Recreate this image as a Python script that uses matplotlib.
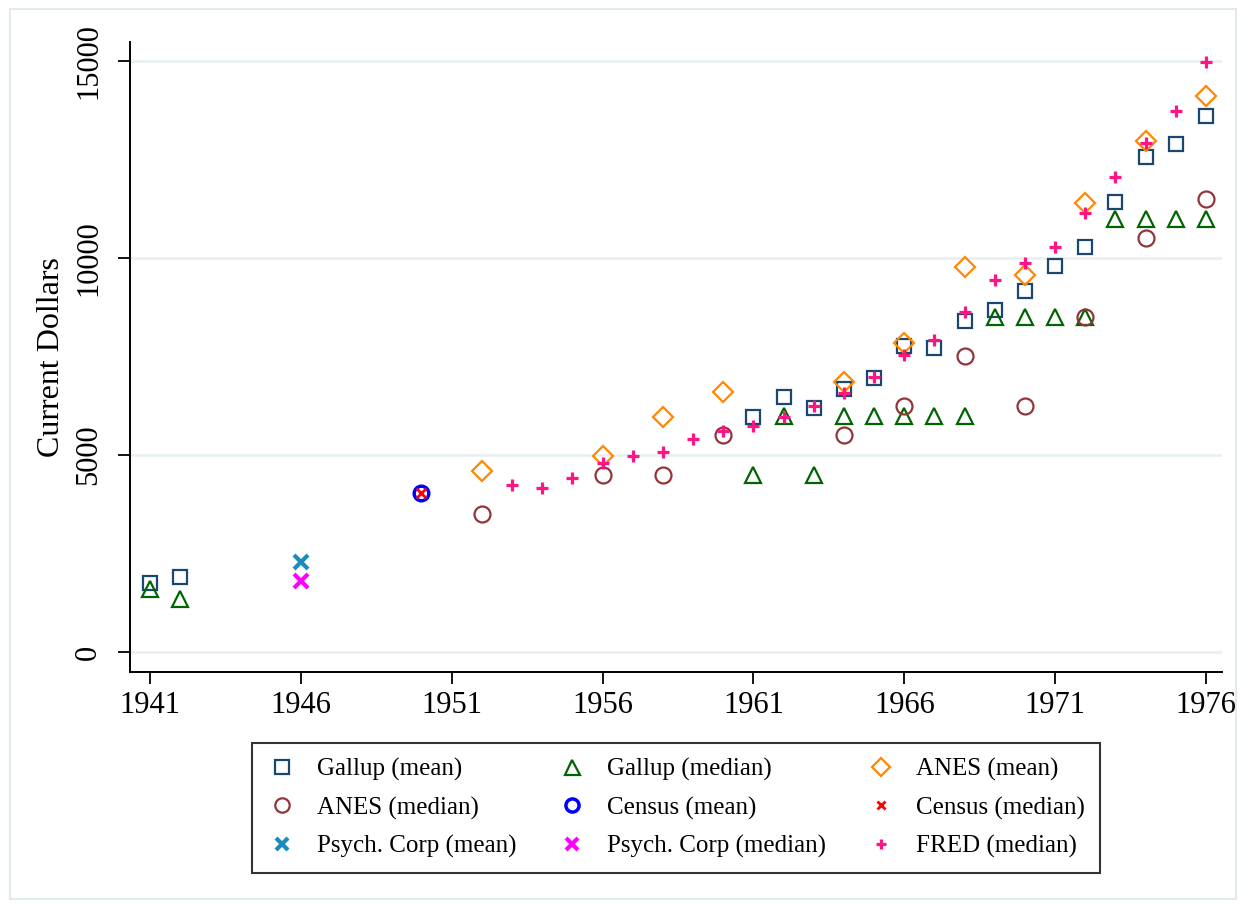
import matplotlib.pyplot as plt
from matplotlib.patches import Rectangle

plt.rcParams['font.family'] = ['Liberation Serif', 'DejaVu Serif']

# Gallup (mean)
gallup_mean_yr = [1941, 1942, 1961, 1962, 1963, 1964, 1965, 1966, 1967, 1968, 1969, 1970, 1971, 1972, 1973, 1974, 1975, 1976]
gallup_mean = [1760, 1910, 5970, 6460, 6200, 6680, 6950, 7770, 7720, 8400, 8680, 9170, 9800, 10270, 11410, 12570, 12890, 13590]

# Gallup (median)
gallup_med_yr = [1941, 1942, 1961, 1962, 1963, 1964, 1965, 1966, 1967, 1968, 1969, 1970, 1971, 1972, 1973, 1974, 1975, 1976]
gallup_med = [1600, 1350, 4500, 6000, 4500, 6000, 6000, 6000, 6000, 6000, 8500, 8500, 8500, 8500, 11000, 11000, 11000, 11000]

# ANES
anes_yr = [1952, 1956, 1958, 1960, 1964, 1966, 1968, 1970, 1972, 1974, 1976]
anes_mean = [4590, 4980, 5960, 6590, 6860, 7850, 9780, 9570, 11390, 12970, 14120]
anes_med = [3500, 4500, 4500, 5500, 5500, 6250, 7500, 6250, 8500, 10500, 11500]

# Census, Psych. Corp
census_yr = [1950]
census_mean = [4040]
census_med = [4040]
psych_yr = [1946]
psych_mean = [2290]
psych_med = [1800]

# FRED (median)
fred_yr = list(range(1953, 1977))
fred_med = [4240, 4170, 4410, 4800, 4970, 5080, 5410, 5620, 5740, 5970, 6250, 6570,
            6970, 7540, 7930, 8640, 9440, 9880, 10290, 11130, 12060, 12910, 13730, 14970]

fig = plt.figure(figsize=(12.44, 9.09), dpi=100)
ax = fig.add_axes([130 / 1244, 1 - 672 / 909, (1222 - 130) / 1244, (672 - 42) / 909])

h = {}
h['gm'], = ax.plot(gallup_mean_yr, gallup_mean, 's', ms=10.5, mfc='none', mec='#1a476f', mew=1.6, label='Gallup (mean)')
h['gd'], = ax.plot(gallup_med_yr, gallup_med, '^', ms=12, mfc='none', mec='#006400', mew=1.6, label='Gallup (median)')
h['am'], = ax.plot(anes_yr, anes_mean, 'D', ms=10, mfc='none', mec='#ff8800', mew=1.6, label='ANES (mean)')
h['ad'], = ax.plot(anes_yr, anes_med, 'o', ms=11.5, mfc='none', mec='#90353b', mew=1.6, label='ANES (median)')
h['cm'], = ax.plot(census_yr, census_mean, 'o', ms=10.5, mfc='none', mec='#0000ff', mew=2.5, label='Census (mean)')
h['cd'], = ax.plot(census_yr, census_med, 'x', ms=6.5, mec='#ff0000', mew=2, label='Census (median)')
h['pm'], = ax.plot(psych_yr, psych_mean, 'x', ms=10, mec='#1a8cbc', mew=3, label='Psych. Corp (mean)')
h['pd'], = ax.plot(psych_yr, psych_med, 'x', ms=10, mec='#ff00ff', mew=3, label='Psych. Corp (median)')
h['fr'], = ax.plot(fred_yr, fred_med, '+', ms=8.5, mec='#ff1483', mew=2.3, label='FRED (median)')

ax.set_xlim(1940.34, 1976.53)
ax.set_ylim(-508, 15480)
ax.set_xticks(range(1941, 1977, 5))
ax.set_yticks([0, 5000, 10000, 15000])
ax.set_yticklabels(['0', '5000', '10000', '15000'], rotation=90, va='center')
ax.tick_params(axis='both', labelsize=22, length=8.5, width=1.3, color='black')
ax.tick_params(axis='x', pad=5)
ax.tick_params(axis='y', pad=11)
ax.set_ylabel('Current Dollars', fontsize=23, labelpad=6)

ax.grid(axis='y', color='#e8eff2', lw=1.8)
ax.set_axisbelow(True)
for s in ['top', 'right']:
    ax.spines[s].set_visible(False)
for s in ['left', 'bottom']:
    ax.spines[s].set_linewidth(1.4)

# legend filled column by column, so order handles to give the row layout
order = ['gm', 'ad', 'pm', 'gd', 'cm', 'pd', 'am', 'cd', 'fr']
leg = fig.legend([h[k] for k in order], [h[k].get_label() for k in order],
                 ncol=3, loc='center', bbox_to_anchor=(676 / 1244, 1 - 808 / 909),
                 fontsize=18, frameon=True, fancybox=False, edgecolor='black',
                 markerscale=0.9, handlelength=1.2, handletextpad=0.8,
                 columnspacing=1.6, labelspacing=0.62, borderpad=0.6)
leg.get_frame().set_linewidth(1.5)

# light border around the whole graph region
fig.patches.append(Rectangle((10 / 1244, 10 / 909), 1226 / 1244, 890 / 909,
                             transform=fig.transFigure, fill=False,
                             edgecolor='#e3eaee', lw=1.5))

fig.savefig('out.png', dpi=100)
